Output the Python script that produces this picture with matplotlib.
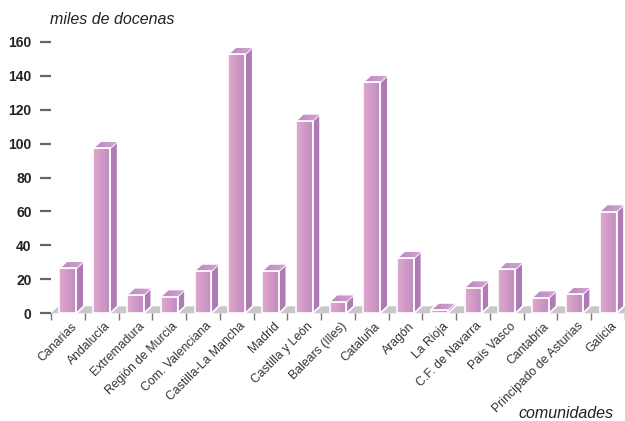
import numpy as np
import matplotlib
matplotlib.use("Agg")
import matplotlib.pyplot as plt
from matplotlib.patches import Polygon
from matplotlib.colors import LinearSegmentedColormap

plt.rcParams['font.family'] = ['Liberation Sans', 'DejaVu Sans']

categories = ["Canarias", "Andalucía", "Extremadura", "Región de Murcia",
              "Com. Valenciana", "Castilla-La Mancha", "Madrid", "Castilla y León",
              "Balears (Illes)", "Cataluña", "Aragón", "La Rioja", "C.F. de Navarra",
              "País Vasco", "Cantabria", "Principado de Asturias", "Galicia"]
values = [26.5, 97.2, 10.8, 9.8, 24.9, 152.6, 24.9, 113.3, 6.8, 136.1,
          32.4, 1.9, 15.1, 25.9, 9.2, 11.2, 59.9]
yticks = [0, 20, 40, 60, 80, 100, 120, 140, 160]

W, H = 625, 421
fig = plt.figure(figsize=(W / 100, H / 100), dpi=100)
left_px, right_px = 51, 625
bottom_px, top_px = 421 - 313.3, 421 - 41.7
ax = fig.add_axes([left_px / W, bottom_px / H, (right_px - left_px) / W, (top_px - bottom_px) / H])
n = len(categories)
ax.set_xlim(-0.5, n - 0.5)
ax.set_ylim(0, 160)

px_x = (right_px - left_px) / n          # pixels per category
px_y = (top_px - bottom_px) / 160        # pixels per unit
ddx = 7.5 / px_x
ddy = 7.0 / px_y
bw = 0.5

# floor
floor = Polygon([(-0.5, 0), (-0.5 + ddx, ddy), (n - 0.5 + ddx, ddy), (n - 0.5, 0)],
                closed=True, facecolor="#c8c8c8", edgecolor="none", clip_on=False, zorder=1)
ax.add_patch(floor)

front_cmap = LinearSegmentedColormap.from_list("f", ["#e0a9ce", "#c18bc0"])
top_cmap = LinearSegmentedColormap.from_list("t", ["#bb84c1", "#d6a5d3"])
grad = np.linspace(0, 1, 64).reshape(1, -1)

bars = ax.bar(range(n), values, width=bw, color="#d29ac8", edgecolor="none",
              linewidth=0, zorder=3, clip_on=False)
for i, (b, v) in enumerate(zip(bars, values)):
    x0, x1 = i - bw / 2, i + bw / 2
    im = ax.imshow(grad, cmap=front_cmap, extent=[x0, x1, 0, v], aspect="auto",
                   zorder=3)
    im.set_clip_path(b)
    # side
    side = Polygon([(x1, 0), (x1 + ddx, ddy), (x1 + ddx, v + ddy), (x1, v)], closed=True,
                   facecolor="#b07ab5", edgecolor="white", linewidth=1.0, zorder=3,
                   clip_on=False)
    ax.add_patch(side)
    top = Polygon([(x0, v), (x0 + ddx, v + ddy), (x1 + ddx, v + ddy), (x1, v)], closed=True,
                  facecolor="#c993c9", edgecolor="white", linewidth=1.0, zorder=3,
                  clip_on=False)
    ax.add_patch(top)
    imt = ax.imshow(grad, cmap=top_cmap, extent=[x0, x1 + ddx, v, v + ddy], aspect="auto",
                    zorder=3)
    imt.set_clip_path(top)
    # outlines on top
    ax.add_patch(Polygon([(x0, 0), (x0, v), (x1, v), (x1, 0)], closed=True, fill=False,
                         edgecolor="white", linewidth=1.2, zorder=4, clip_on=False))
    ax.add_patch(Polygon([(x0, v), (x0 + ddx, v + ddy), (x1 + ddx, v + ddy), (x1 + ddx, ddy), (x1, 0)],
                         closed=False, fill=False, edgecolor="white", linewidth=1.0,
                         zorder=4, clip_on=False))

ax.set_xlim(-0.5, n - 0.5)
ax.set_ylim(0, 160)

for s in ax.spines.values():
    s.set_visible(False)

ax.set_yticks(yticks)
ax.set_yticklabels([str(t) for t in yticks], fontsize=10, fontweight="bold", color="#222222")
ax.tick_params(axis="y", length=8, width=1.6, color="#666666", pad=6)

ax.set_xticks(np.arange(-0.5, n, 1.0), minor=False)
ax.set_xticklabels([])
ax.tick_params(axis="x", length=5, width=1, color="#777777", direction="out")
for i, c in enumerate(categories):
    ax.annotate(c, xy=(i + 0.08, 0), xytext=(0, -5), textcoords="offset points",
                rotation=45, ha="right", va="top", rotation_mode="anchor",
                fontsize=8.8, color="#333333", annotation_clip=False)

fig.text(50 / W, 1 - 20 / H, "miles de docenas", fontsize=11.5, style="italic",
         color="#222222", va="center", ha="left")
fig.text(613 / W, 1 - 414 / H, "comunidades", fontsize=11.5, style="italic",
         color="#222222", va="center", ha="right")

fig.savefig("out.png", dpi=100)
